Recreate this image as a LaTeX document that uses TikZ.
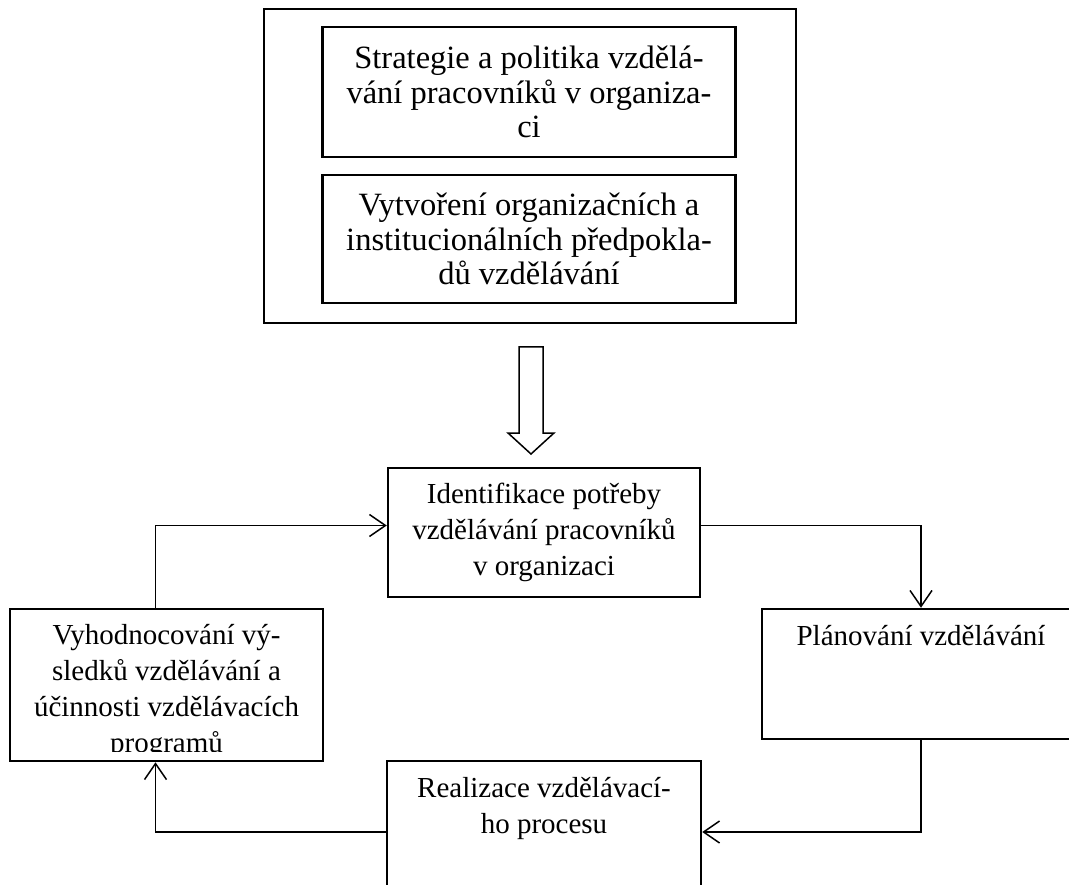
\documentclass[tikz,border=0pt]{standalone}
\usepackage{fontspec}
\setmainfont{Liberation Serif}
\usetikzlibrary{arrows.meta}
\usetikzlibrary{positioning}

\begin{document}
\begin{tikzpicture}[x=1pt, y=-1pt,
    box/.style={draw, line width=2.5pt, inner sep=0pt, align=center, font=\fontsize{29}{36}\selectfont},
    bigbox/.style={box, font=\fontsize{32.5}{34.5}\selectfont},
    txt/.style={inner sep=0pt, align=center, font=\fontsize{29}{36}\selectfont},
    flow/.style={line width=1.5pt, -{Straight Barb[length=16pt, width=22pt]}}]

    \clip (0,0) rectangle (1069,885);

    % top frame with the two boxes
    \node[box, minimum width=532pt, minimum height=314pt] (frame) at (530,166) {};
    \node[bigbox, minimum width=413pt, minimum height=130pt] (strat) at (529,92)
      {Strategie a politika vzdělá-\\vání pracovníků v organiza-\\ci};
    \node[bigbox, minimum width=413pt, minimum height=128pt] (inst) at (529,239)
      {Vytvoření organizačních a\\institucionálních předpokla-\\dů vzdělávání};

    % big hollow arrow
    \coordinate (dtip) at (531,454);
    \draw[line width=1.5pt] (dtip) -- ++(-23,-21) -- ++(11,0) -- ++(0,-86) -- ++(24,0) -- ++(0,86) -- ++(11,0) -- cycle;

    % cycle boxes
    \node[box, minimum width=312pt, minimum height=129pt] (ident) at (544,532.5)
      {Identifikace potřeby\\vzdělávání pracovníků\\v organizaci};
    \node[box, minimum width=318pt, minimum height=130pt] (plan) at (921,674) {};
    \node[txt, below=17pt of plan.north] (plantxt) {Plánování vzdělávání};
    \node[box, minimum width=314pt, minimum height=130pt] (real) at (544,826) {};
    \node[txt, below=17pt of real.north] (realtxt) {Realizace vzdělávací-\\ho procesu};
    \node[box, minimum width=313pt, minimum height=152pt] (eval) at (166.5,685) {};
    \begin{scope}
      \clip (10,609) rectangle (323,751);
      \node[txt, below=16pt of eval.north] (evaltxt)
        {Vyhodnocování vý-\\sledků vzdělávání a\\účinnosti vzdělávacích\\programů};
    \end{scope}

    % connectors
    \draw[flow] ([yshift=7pt]ident.east) -| (plan.north);
    \draw[flow] (plan.south) |- ([yshift=-6pt]real.east);
    \draw[flow] ([yshift=-6pt]real.west) -| ([xshift=-11pt]eval.south);
    \draw[flow] ([xshift=-11pt]eval.north) |- ([yshift=7pt]ident.west);
\end{tikzpicture}
\end{document}
